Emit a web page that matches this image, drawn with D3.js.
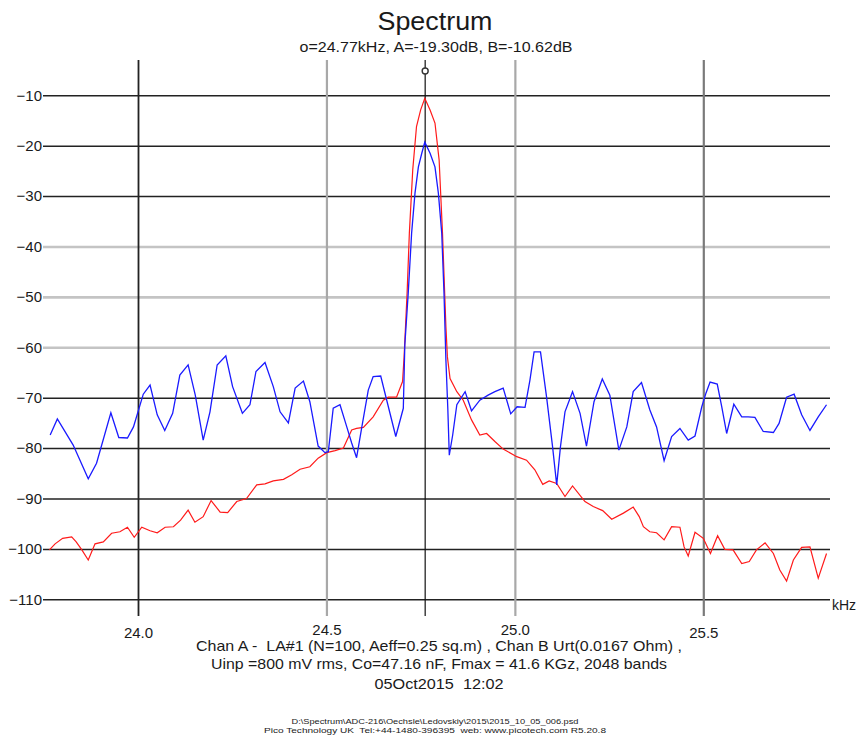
<!DOCTYPE html>
<html><head><meta charset="utf-8">
<script src="https://cdn.jsdelivr.net/npm/d3@7"></script>
<style>
body{margin:0;background:#fff}
svg text{font-family:"Liberation Sans",Arial,sans-serif;fill:#1a1a1a;white-space:pre}
</style>
</head><body>
<svg id="chart" width="862" height="742"></svg>
<script>
// ---------- data ----------
const titleText = "Spectrum";
const subtitleText = "o=24.77kHz, A=-19.30dB, B=-10.62dB";
const captionLines = [
  "Chan A -  LA#1 (N=100, Aeff=0.25 sq.m) , Chan B Urt(0.0167 Ohm) ,",
  "Uinp =800 mV rms, Co=47.16 nF, Fmax = 41.6 KGz, 2048 bands",
  "05Oct2015  12:02"
];
const footerLines = [
  "D:\\Spectrum\\ADC-216\\Oechsle\\Ledovskiy\\2015\\2015_10_05_006.psd",
  "Pico Technology UK  Tel:+44-1480-396395  web: www.picotech.com R5.20.8"
];
const xUnit = "kHz";
const yTicks = [-10,-20,-30,-40,-50,-60,-70,-80,-90,-100,-110];
const yGrayTicks = [-40,-50,-60];
const xTicks = [24.0,24.5,25.0,25.5];
const xTickLabels = ["24.0","24.5","25.0","25.5"];
const markerFreq = 24.762;

const blueFreq = [23.767,23.786,23.828,23.868,23.890,23.928,23.949,23.972,23.988,24.014,
  24.032,24.051,24.071,24.092,24.111,24.133,24.152,24.173,24.191,24.210,
  24.233,24.251,24.277,24.297,24.313,24.337,24.359,24.377,24.399,24.417,
  24.439,24.456,24.478,24.496,24.505,24.518,24.536,24.554,24.567,24.580,
  24.594,24.611,24.624,24.644,24.660,24.684,24.704,24.708,24.717,24.726,
  24.735,24.744,24.753,24.761,24.775,24.788,24.797,24.806,24.812,24.817,
  24.822,24.826,24.835,24.846,24.868,24.885,24.907,24.929,24.947,24.969,
  24.989,25.006,25.027,25.040,25.051,25.068,25.084,25.100,25.111,25.121,
  25.133,25.153,25.173,25.190,25.210,25.232,25.252,25.276,25.297,25.314,
  25.336,25.358,25.376,25.396,25.416,25.438,25.460,25.478,25.496,25.507,
  25.518,25.537,25.549,25.562,25.581,25.602,25.619,25.637,25.659,25.686,
  25.701,25.721,25.741,25.761,25.783,25.805,25.827];
const blueDb = [-77.4,-74.2,-79.4,-86.1,-83.0,-73.0,-77.9,-78.0,-75.8,-69.3,
  -67.5,-73.4,-76.5,-73.1,-65.5,-63.5,-69.5,-78.4,-72.8,-63.5,
  -61.7,-67.8,-73.1,-71.4,-64.8,-63.0,-67.8,-72.8,-75.0,-68.1,
  -66.7,-70.8,-79.6,-80.9,-80.7,-72.1,-71.4,-75.8,-79.0,-81.9,
  -75.8,-68.5,-65.8,-65.7,-70.5,-77.7,-72.1,-59.5,-49.3,-37.4,
  -29.4,-24.2,-21.5,-19.3,-21.5,-24.2,-29.4,-37.4,-49.3,-62.5,
  -72.0,-81.4,-77.4,-71.4,-68.8,-72.6,-70.5,-69.5,-68.8,-68.1,
  -73.2,-71.8,-71.9,-66.5,-60.9,-60.9,-69.8,-79.7,-87.3,-79.7,
  -72.8,-68.8,-73.1,-79.6,-70.8,-66.3,-69.5,-80.4,-75.8,-68.8,
  -67.0,-72.4,-75.8,-82.5,-77.7,-76.1,-78.4,-77.6,-71.8,-69.1,
  -66.9,-67.3,-71.8,-77.1,-71.3,-73.8,-73.8,-73.9,-76.7,-76.9,
  -75.1,-69.9,-69.3,-73.4,-76.5,-73.8,-71.4];

const redFreq = [23.765,23.780,23.800,23.824,23.836,23.851,23.868,23.886,23.908,23.930,
  23.952,23.972,23.990,24.010,24.032,24.051,24.072,24.094,24.113,24.133,
  24.151,24.173,24.194,24.218,24.238,24.262,24.288,24.315,24.337,24.359,
  24.386,24.408,24.430,24.456,24.478,24.501,24.523,24.545,24.567,24.580,
  24.598,24.624,24.651,24.664,24.686,24.702,24.706,24.714,24.720,24.729,
  24.739,24.750,24.761,24.775,24.788,24.799,24.808,24.817,24.821,24.828,
  24.846,24.863,24.885,24.907,24.925,24.947,24.969,25.005,25.031,25.053,
  25.074,25.091,25.111,25.133,25.153,25.186,25.208,25.233,25.257,25.288,
  25.314,25.330,25.341,25.358,25.376,25.396,25.416,25.438,25.449,25.460,
  25.478,25.500,25.519,25.538,25.557,25.579,25.602,25.622,25.641,25.664,
  25.686,25.703,25.721,25.739,25.761,25.783,25.805,25.827];
const redDb = [-100.2,-99.0,-97.9,-97.6,-98.6,-100.2,-102.2,-99.0,-98.6,-96.9,
  -96.6,-95.7,-97.7,-95.7,-96.4,-96.8,-95.7,-95.6,-94.3,-92.3,
  -94.7,-93.6,-90.4,-92.7,-92.8,-90.6,-90.0,-87.3,-87.1,-86.5,
  -86.2,-85.3,-84.2,-83.7,-82.0,-80.9,-80.5,-80.0,-76.4,-76.1,
  -75.9,-73.8,-70.5,-69.9,-69.9,-66.8,-62.0,-49.3,-37.4,-24.8,
  -16.2,-12.9,-10.6,-12.9,-15.5,-22.8,-37.4,-55.9,-61.9,-66.2,
  -68.8,-70.5,-74.4,-77.4,-77.1,-78.7,-80.2,-81.7,-82.4,-84.3,
  -87.2,-86.5,-87.0,-89.6,-87.5,-90.6,-91.6,-92.4,-94.1,-92.9,
  -91.7,-93.6,-95.6,-96.6,-96.8,-98.2,-95.6,-95.7,-99.6,-101.4,
  -96.7,-97.9,-100.9,-97.4,-100.1,-100.2,-102.9,-102.5,-100.2,-98.8,
  -100.9,-104.2,-106.4,-102.2,-99.7,-99.6,-105.8,-100.9];

// ---------- layout ----------
const plotLeft = 43, plotRight = 830, plotTop = 60, tickBottom = 616;
const x = d3.scaleLinear().domain([24.0, 25.5]).range([138, 703.3]);
const y = d3.scaleLinear().domain([-10, -110]).range([95.3, 599.3]);

const svg = d3.select("#chart");
svg.append("rect").attr("width",862).attr("height",742).attr("fill","#fff");

// horizontal grid + y labels
const yAxis = d3.axisLeft(y).tickValues(yTicks).tickSize(-(plotRight-plotLeft)).tickPadding(1)
  .tickFormat(d3.format("d"));
const gy = svg.append("g").attr("transform",`translate(${plotLeft},0)`).call(yAxis);
gy.select(".domain").remove();
gy.selectAll(".tick line")
  .attr("stroke", d => yGrayTicks.includes(d) ? "#c4c4c4" : "#222")
  .attr("stroke-width", d => yGrayTicks.includes(d) ? 2.6 : 1.5);
gy.selectAll(".tick text").attr("font-size",15).attr("fill","#1a1a1a");

// vertical grid + x labels
const xAxis = d3.axisBottom(x).tickValues(xTicks).tickSize(tickBottom-plotTop).tickPadding(11)
  .tickFormat((d,i) => xTickLabels[i]);
const gx = svg.append("g").attr("transform",`translate(0,${plotTop})`).call(xAxis);
gx.select(".domain").remove();
const vColor = {"24":"#222","24.5":"#a8a8a8","25":"#a8a8a8","25.5":"#7a7a7a"};
gx.selectAll(".tick line")
  .attr("stroke", d => vColor[String(d)])
  .attr("stroke-width", d => d === 24 ? 1.8 : 2.2);
gx.selectAll(".tick text").attr("font-size",15).attr("fill","#1a1a1a")
  .attr("dy", d => (d === 24.5 || d === 25) ? "0.55em" : "0.71em");

// marker line
svg.append("line").attr("x1",x(markerFreq)).attr("x2",x(markerFreq))
  .attr("y1",plotTop).attr("y2",tickBottom).attr("stroke","#111").attr("stroke-width",1.2);
svg.append("circle").attr("cx",x(markerFreq)).attr("cy",71).attr("r",3)
  .attr("fill","#fff").attr("stroke","#333").attr("stroke-width",1.4);

// series
const line = d3.line().x(d => x(d[0])).y(d => y(d[1]));
svg.append("path").datum(redFreq.map((f,i)=>[f,redDb[i]]))
  .attr("d",line).attr("fill","none").attr("stroke","#ff1a1a").attr("stroke-width",1.2);
svg.append("path").datum(blueFreq.map((f,i)=>[f,blueDb[i]]))
  .attr("d",line).attr("fill","none").attr("stroke","#1a1aff").attr("stroke-width",1.3);

// texts
svg.append("text").attr("x",435).attr("y",30).attr("text-anchor","middle")
  .attr("font-size",26).attr("textLength",115).attr("lengthAdjust","spacingAndGlyphs").text(titleText);
svg.append("text").attr("x",436).attr("y",52).attr("text-anchor","middle")
  .attr("font-size",15).attr("textLength",273).attr("lengthAdjust","spacingAndGlyphs").text(subtitleText);
svg.append("text").attr("x",832).attr("y",610).attr("font-size",14).text(xUnit);
const capY = [651, 669, 689];
const capW = [486, 456, 129];
captionLines.forEach((t,i) => svg.append("text").attr("x",439).attr("y",capY[i])
  .attr("text-anchor","middle").attr("font-size",15)
  .attr("textLength",capW[i]).attr("lengthAdjust","spacingAndGlyphs").text(t));
const footY = [724, 733];
const footW = [287, 342];
footerLines.forEach((t,i) => svg.append("text").attr("x",435).attr("y",footY[i])
  .attr("text-anchor","middle").attr("font-size",8)
  .attr("textLength",footW[i]).attr("lengthAdjust","spacingAndGlyphs").text(t));
</script>
</body></html>
